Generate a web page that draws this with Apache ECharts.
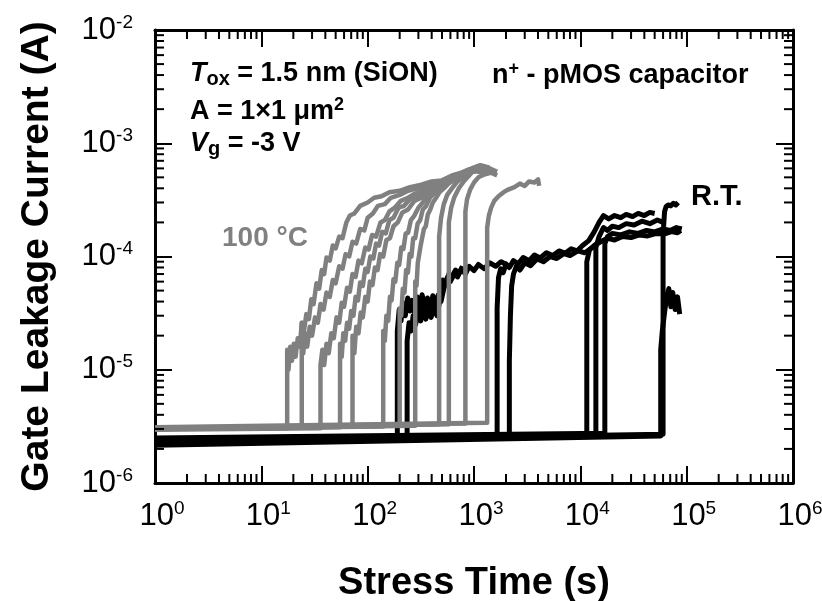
<!DOCTYPE html>
<html>
<head>
<meta charset="utf-8">
<script src="https://cdn.jsdelivr.net/npm/echarts@6/dist/echarts.min.js"></script>
<style>
html,body{margin:0;padding:0;background:#fff;}
#chart{width:822px;height:601px;}
</style>
</head>
<body>
<div id="chart"></div>
<script>
// ---- axis ticks ----
const xDecades = [1, 10, 100, 1000, 10000, 100000, 1000000];
const xTickExponents = ['0', '1', '2', '3', '4', '5', '6'];
const yDecades = [1e-6, 1e-5, 1e-4, 1e-3, 1e-2];
const yTickExponents = ['-6', '-5', '-4', '-3', '-2'];
const minorMultipliers = [2, 3, 4, 5, 6, 7, 8, 9];

// ---- 100 °C curves (stress time s, gate current A) ----
const hot1 = [[1,3.0e-6],[17.5,3.05e-6],[17.5,1.5e-5],[18,1.0e-5],[18.7,1.6e-5],[19.4,1.2e-5],[20.2,1.7e-5],[21,1.3e-5],[22,1.9e-5],[23,1.6e-5],[24,2.6e-5],[25,2.1e-5],[26.5,3.1e-5],[28,2.8e-5],[29.5,4.2e-5],[31,3.8e-5],[33,5.8e-5],[35,5.2e-5],[37,7.6e-5],[39,7.0e-5],[41,9.8e-5],[44,9.2e-5],[47,1.25e-4],[50,1.18e-4],[54,1.5e-4],[58,1.45e-4],[63,2.0e-4],[68,2.3e-4],[75,2.4e-4],[85,2.8e-4],[100,3.0e-4],[115,3.3e-4],[135,3.4e-4],[160,3.7e-4],[200,3.8e-4],[250,4.1e-4],[320,4.3e-4],[400,4.6e-4],[500,4.7e-4],[620,5.2e-4],[760,5.5e-4],[900,5.9e-4],[1050,6.0e-4],[1200,5.7e-4]];
const hot2 = [[1,3.05e-6],[24,3.1e-6],[24,2.6e-5],[24.8,1.4e-5],[25.8,2.1e-5],[27,1.6e-5],[28.5,2.4e-5],[30,2.0e-5],[32,2.9e-5],[34,2.6e-5],[36,3.8e-5],[38.5,3.4e-5],[41,4.8e-5],[44,4.4e-5],[47,6.2e-5],[50,5.8e-5],[54,8.2e-5],[58,7.8e-5],[62,1.05e-4],[67,1.0e-4],[72,1.35e-4],[78,1.3e-4],[85,1.75e-4],[93,1.7e-4],[100,2.2e-4],[112,2.4e-4],[125,2.8e-4],[145,2.9e-4],[165,3.3e-4],[200,3.5e-4],[240,3.8e-4],[290,4.0e-4],[350,4.2e-4],[430,4.5e-4],[520,4.6e-4],[620,5.0e-4],[750,5.2e-4],[900,5.5e-4],[1100,5.8e-4],[1350,5.4e-4]];
const hot3 = [[1,2.95e-6],[36,3.05e-6],[36,1.1e-5],[37.5,1.5e-5],[39,1.1e-5],[41,1.7e-5],[43,1.4e-5],[45.5,2.1e-5],[48,1.9e-5],[51,2.9e-5],[54,2.6e-5],[57,3.9e-5],[60,3.6e-5],[64,5.3e-5],[68,4.9e-5],[72,7.0e-5],[77,6.6e-5],[82,9.2e-5],[88,8.7e-5],[95,1.2e-4],[102,1.15e-4],[110,1.55e-4],[120,1.5e-4],[132,2.0e-4],[145,2.1e-4],[160,2.5e-4],[180,2.7e-4],[205,3.1e-4],[240,3.3e-4],[280,3.6e-4],[340,3.9e-4],[410,4.2e-4],[500,4.4e-4],[620,4.9e-4],[780,5.3e-4],[950,5.6e-4],[1150,5.7e-4],[1400,5.5e-4]];
const hot4 = [[1,3.0e-6],[55,3.1e-6],[55,1.7e-5],[57,1.3e-5],[59,2.1e-5],[61.5,1.8e-5],[64,2.6e-5],[67,2.3e-5],[70,3.3e-5],[73.5,3.0e-5],[77,4.4e-5],[81,4.1e-5],[85,5.9e-5],[90,5.5e-5],[95,7.8e-5],[100,7.3e-5],[106,1.0e-4],[113,9.6e-5],[120,1.3e-4],[128,1.25e-4],[137,1.65e-4],[148,1.6e-4],[160,2.1e-4],[175,2.2e-4],[195,2.7e-4],[220,2.8e-4],[250,3.2e-4],[290,3.4e-4],[340,3.8e-4],[410,4.1e-4],[500,4.5e-4],[600,4.7e-4],[720,5.2e-4],[860,5.6e-4],[1000,5.9e-4],[1200,6.2e-4],[1450,5.8e-4]];
const hot5 = [[1,3.05e-6],[72,3.15e-6],[72,2.0e-5],[75,1.4e-5],[78,2.4e-5],[82,2.1e-5],[86,3.2e-5],[90,2.9e-5],[95,4.4e-5],[100,4.0e-5],[105,6.0e-5],[111,5.6e-5],[117,8.0e-5],[124,7.6e-5],[131,1.05e-4],[140,1.0e-4],[150,1.4e-4],[162,1.45e-4],[175,1.85e-4],[192,2.0e-4],[212,2.45e-4],[240,2.6e-4],[275,3.1e-4],[320,3.3e-4],[380,3.8e-4],[450,4.0e-4],[540,4.5e-4],[650,4.8e-4],[780,5.3e-4],[930,5.7e-4],[1150,6.0e-4],[1500,5.7e-4]];
const hot6 = [[1,3.0e-6],[140,3.15e-6],[140,2.2e-5],[145,1.8e-5],[150,3.0e-5],[156,2.7e-5],[162,4.4e-5],[168,4.1e-5],[175,6.3e-5],[182,6.0e-5],[190,8.8e-5],[198,8.4e-5],[207,1.2e-4],[217,1.17e-4],[228,1.6e-4],[240,1.62e-4],[255,2.1e-4],[275,2.3e-4],[300,2.7e-4],[330,3.0e-4],[370,3.4e-4],[420,3.8e-4],[480,4.2e-4],[560,4.6e-4],[660,5.0e-4],[780,5.4e-4],[900,5.8e-4],[1100,6.3e-4],[1400,6.0e-4],[1650,5.6e-4]];
const hot7 = [[1,3.05e-6],[200,3.2e-6],[200,3.5e-5],[207,3.0e-5],[214,5.2e-5],[222,4.8e-5],[230,7.6e-5],[239,7.2e-5],[248,1.05e-4],[258,1.0e-4],[268,1.45e-4],[280,1.45e-4],[295,1.95e-4],[312,2.1e-4],[330,2.6e-4],[355,2.8e-4],[385,3.3e-4],[420,3.6e-4],[470,4.0e-4],[530,4.3e-4],[610,4.7e-4],[700,5.1e-4],[800,5.5e-4],[950,6.0e-4],[1150,6.4e-4],[1400,6.1e-4]];
const hot8 = [[1,3.0e-6],[280,3.2e-6],[280,6e-5],[288,5.5e-5],[296,8.8e-5],[305,8.5e-5],[315,1.25e-4],[326,1.25e-4],[338,1.75e-4],[352,1.85e-4],[368,2.35e-4],[388,2.6e-4],[410,3.0e-4],[440,3.3e-4],[475,3.7e-4],[520,4.0e-4],[575,4.4e-4],[650,4.7e-4],[730,5.1e-4],[830,5.4e-4],[950,5.7e-4],[1100,5.9e-4],[1300,5.5e-4]];
const hot9 = [[1,3.05e-6],[470,3.3e-6],[470,1.5e-4],[490,2.2e-4],[520,2.9e-4],[560,3.5e-4],[620,4.0e-4],[700,4.6e-4],[800,5.1e-4],[920,5.5e-4],[1050,5.7e-4],[1250,5.4e-4]];
const hot10 = [[1,3.0e-6],[580,3.3e-6],[580,2.0e-4],[610,2.7e-4],[650,3.3e-4],[720,4.0e-4],[800,4.6e-4],[900,5.2e-4],[1000,5.8e-4],[1150,6.2e-4],[1350,5.9e-4]];
const hot11 = [[1,3.05e-6],[830,3.35e-6],[830,2.5e-4],[860,3.2e-4],[920,3.9e-4],[1000,4.5e-4],[1100,5.0e-4],[1250,5.3e-4],[1450,5.5e-4],[1650,5.2e-4]];
const hot12 = [[1,3.1e-6],[1330,3.4e-6],[1330,1.8e-4],[1380,2.3e-4],[1450,2.7e-4],[1550,3.1e-4],[1700,3.4e-4],[1900,3.7e-4],[2100,3.9e-4],[2400,4.1e-4],[2700,4.4e-4],[3000,4.2e-4],[3300,4.6e-4],[3700,4.5e-4],[4000,4.8e-4],[4100,4.2e-4]];

// ---- room temperature curves ----
const rt1 = [[1,2.2e-6],[190,2.4e-6],[190,2.2e-5],[198,3.4e-5],[206,2.7e-5],[215,3.9e-5],[226,3.0e-5],[238,4.3e-5],[250,3.3e-5],[262,4.1e-5],[276,3.2e-5],[292,4.4e-5],[308,3.5e-5],[325,4.6e-5],[345,3.6e-5],[365,4.3e-5],[388,3.4e-5],[410,4.5e-5],[435,3.7e-5],[462,4.6e-5],[490,4.0e-5],[520,5.2e-5],[560,6.5e-5],[600,6.0e-5],[650,7.2e-5],[700,6.6e-5],[760,7.8e-5],[830,7.0e-5],[900,8.2e-5],[1000,7.5e-5],[1100,8.5e-5],[1250,7.8e-5],[1400,8.8e-5],[1600,8.2e-5],[1800,9.0e-5],[2000,8.5e-5]];
const rt2 = [[1,2.45e-6],[235,2.55e-6],[235,1.8e-5],[245,2.6e-5],[256,2.2e-5],[268,3.0e-5],[282,2.5e-5],[298,3.3e-5],[315,2.7e-5],[333,3.5e-5],[352,2.8e-5],[372,3.4e-5],[395,2.9e-5],[420,3.6e-5],[448,3.0e-5],[470,3.8e-5],[490,5.0e-5],[510,6.2e-5],[540,5.6e-5],[580,7.0e-5],[620,6.4e-5],[670,7.6e-5],[720,7.0e-5],[780,8.2e-5]];
const rt3 = [[1,2.25e-6],[1650,2.5e-6],[1650,3.5e-5],[1700,6.5e-5],[1780,7.8e-5],[1880,7.2e-5],[2000,8.6e-5],[2150,8.0e-5],[2350,9.2e-5],[2600,8.6e-5],[2900,9.8e-5],[3300,9.2e-5],[3700,1.03e-4],[4200,9.7e-5],[4800,1.08e-4],[5500,1.02e-4],[6300,1.12e-4],[7200,1.07e-4],[8200,1.17e-4],[9300,1.12e-4],[10500,1.25e-4],[12000,1.38e-4],[13500,1.65e-4],[15000,2.0e-4],[16500,2.3e-4],[18500,2.15e-4],[21000,2.3e-4],[24000,2.2e-4],[27000,2.35e-4],[31000,2.25e-4],[35000,2.4e-4],[40000,2.3e-4],[45000,2.45e-4],[50000,2.4e-4]];
const rt4 = [[1,2.35e-6],[2150,2.55e-6],[2150,1.2e-5],[2200,3.0e-5],[2260,5.5e-5],[2350,7.0e-5],[2500,8.2e-5],[2700,7.6e-5],[3000,8.8e-5],[3400,8.3e-5],[3900,9.5e-5],[4500,9.0e-5],[5200,1.0e-4],[6000,9.6e-5],[7000,1.06e-4],[8000,1.02e-4],[9500,1.12e-4],[11000,1.08e-4],[13000,1.2e-4]];
const rt5 = [[1,2.3e-6],[11500,2.6e-6],[11500,9e-5],[12200,1.15e-4],[13500,1.25e-4],[15500,1.35e-4],[18000,1.45e-4],[21000,1.4e-4],[25000,1.5e-4],[30000,1.47e-4],[36000,1.55e-4],[43000,1.52e-4],[52000,1.6e-4],[62000,1.58e-4],[72000,1.66e-4],[82000,1.62e-4],[88000,1.7e-4]];
const rt6 = [[1,2.4e-6],[14000,2.65e-6],[14000,1.2e-4],[15000,1.5e-4],[16500,1.8e-4],[18000,1.7e-4],[20000,1.85e-4],[23000,1.8e-4],[27000,1.95e-4],[32000,1.9e-4],[38000,2.05e-4],[45000,1.95e-4],[53000,2.1e-4],[60000,2.0e-4]];
const rt7 = [[1,2.5e-6],[17000,2.75e-6],[17000,1.3e-4],[18000,1.5e-4],[20000,1.6e-4],[24000,1.55e-4],[29000,1.65e-4],[35000,1.6e-4],[42000,1.7e-4],[50000,1.65e-4],[60000,1.75e-4],[70000,1.7e-4],[80000,1.8e-4],[90000,1.75e-4]];
const rt8 = [[1,2.3e-6],[60000,2.7e-6],[60000,1.5e-4],[61000,2.0e-4],[62000,2.5e-4],[64000,2.75e-4],[67000,2.85e-4],[71000,2.8e-4],[75000,2.95e-4],[79000,2.85e-4],[83000,3.0e-4]];
const rt9 = [[1,2.15e-6],[57000,2.6e-6],[57000,1.5e-5],[59000,2.2e-5],[62000,3.2e-5],[65000,4.5e-5],[68000,5.2e-5],[71000,3.6e-5],[74000,4.8e-5],[78000,3.4e-5],[82000,4.4e-5],[86000,3.1e-5]];

const hotCurves = [hot1, hot2, hot3, hot4, hot5, hot6, hot7, hot8, hot9, hot10, hot11, hot12];
const rtCurves = [rt1, rt2, rt3, rt4, rt5, rt6, rt7, rt8, rt9];

const X_MIN = 1, X_MAX = 1e6, Y_MIN = 1e-6, Y_MAX = 1e-2;
const FONT = "'Liberation Sans', Arial, Helvetica, sans-serif";

const xMinor = [];
xDecades.slice(0, -1).forEach(d => minorMultipliers.forEach(m => xMinor.push([d * m, Y_MIN])));
const yMinor = [];
yDecades.slice(0, -1).forEach(d => minorMultipliers.forEach(m => yMinor.push([X_MIN, d * m])));

const chart = echarts.init(document.getElementById('chart'), null, {renderer: 'canvas'});

const labelRich = {
  b: {fontFamily: FONT, fontSize: 31, lineHeight: 34, color: '#000'},
  s: {fontFamily: FONT, fontSize: 19, lineHeight: 18, verticalAlign: 'top', color: '#000'}
};
function xLabel(v) {
  const i = xDecades.findIndex(d => Math.abs(Math.log10(d) - Math.log10(v)) < 1e-6);
  return i < 0 ? '' : '{b|10}{s|' + xTickExponents[i] + '}';
}
function yLabel(v) {
  const i = yDecades.findIndex(d => Math.abs(Math.log10(d) - Math.log10(v)) < 1e-6);
  return i < 0 ? '' : '{b|10}{s|' + yTickExponents[i] + '}';
}

const axisLine = {show: true, onZero: false, lineStyle: {color: '#000', width: 3}};
const majorTick = {show: true, inside: true, length: 17, lineStyle: {color: '#000', width: 2}};

const series = [];
rtCurves.forEach((d, i) => series.push({
  type: 'line', name: 'R.T. ' + (i + 1), data: d, showSymbol: false, symbol: 'none',
  lineStyle: {color: '#000000', width: 5, join: 'round'}, z: 2, silent: true
}));
hotCurves.forEach((d, i) => series.push({
  type: 'line', name: '100C ' + (i + 1), data: d, showSymbol: false, symbol: 'none',
  lineStyle: {color: '#808080', width: 4.5, join: 'round'}, z: 3, silent: true
}));
series.push({
  type: 'custom', data: xMinor, clip: false, silent: true, z: 10,
  renderItem(params, api) {
    const v = api.value(0);
    const b = api.coord([v, Y_MIN]);
    const t = api.coord([v, Y_MAX]);
    const st = {stroke: '#000', lineWidth: 2};
    return {type: 'group', children: [
      {type: 'line', shape: {x1: b[0], y1: b[1], x2: b[0], y2: b[1] - 9}, style: st},
      {type: 'line', shape: {x1: t[0], y1: t[1], x2: t[0], y2: t[1] + 9}, style: st}
    ]};
  }
});
series.push({
  type: 'custom', data: yMinor, clip: false, silent: true, z: 10,
  renderItem(params, api) {
    const v = api.value(1);
    const l = api.coord([X_MIN, v]);
    const r = api.coord([X_MAX, v]);
    const st = {stroke: '#000', lineWidth: 2};
    return {type: 'group', children: [
      {type: 'line', shape: {x1: l[0], y1: l[1], x2: l[0] + 9, y2: l[1]}, style: st},
      {type: 'line', shape: {x1: r[0], y1: r[1], x2: r[0] - 9, y2: r[1]}, style: st}
    ]};
  }
});

const txt = {fontFamily: FONT, fontSize: 27, fontWeight: 'bold', lineHeight: 32, color: '#000'};
const richAnn = {
  n: Object.assign({}, txt),
  ti: Object.assign({}, txt, {fontStyle: 'italic'}),
  sub: Object.assign({}, txt, {fontSize: 20, lineHeight: 16, verticalAlign: 'bottom'}),
  sup: Object.assign({}, txt, {fontSize: 18, lineHeight: 16, verticalAlign: 'top'})
};

const option = {
  animation: false,
  backgroundColor: '#fff',
  grid: {left: 155, right: 29, top: 30, bottom: 118, containLabel: false, outerBoundsMode: 'none'},
  xAxis: [{
    type: 'log', logBase: 10, min: X_MIN, max: X_MAX, splitNumber: 6,
    position: 'bottom',
    name: 'Stress Time (s)', nameLocation: 'middle', nameGap: 82,
    nameTextStyle: {fontFamily: FONT, fontSize: 38, fontWeight: 'bold', color: '#000'},
    axisLine: axisLine, axisTick: majorTick,
    axisLabel: {show: true, margin: 16, padding: [0, 0, 0, 14], formatter: xLabel, rich: labelRich, showMinLabel: true, showMaxLabel: true},
    splitLine: {show: false}, minorTick: {show: false}
  }, {
    type: 'log', logBase: 10, min: X_MIN, max: X_MAX, splitNumber: 6,
    position: 'top',
    axisLine: axisLine, axisTick: majorTick, axisLabel: {show: false}, splitLine: {show: false}
  }],
  yAxis: [{
    type: 'log', logBase: 10, min: Y_MIN, max: Y_MAX, splitNumber: 4,
    position: 'left',
    name: 'Gate Leakage Current (A)', nameLocation: 'middle', nameGap: 98,
    nameTextStyle: {fontFamily: FONT, fontSize: 39, fontWeight: 'bold', color: '#000'},
    axisLine: axisLine, axisTick: majorTick,
    axisLabel: {show: true, margin: 22, formatter: yLabel, rich: labelRich, showMinLabel: true, showMaxLabel: true},
    splitLine: {show: false}, minorTick: {show: false}
  }, {
    type: 'log', logBase: 10, min: Y_MIN, max: Y_MAX, splitNumber: 4,
    position: 'right',
    axisLine: axisLine, axisTick: majorTick, axisLabel: {show: false}, splitLine: {show: false}
  }],
  series: series,
  graphic: [
    {type: 'text', left: 190, top: 60, z: 20, style: {text: '{ti|T}{sub|ox}{n| = 1.5 nm (SiON)}', rich: richAnn}},
    {type: 'text', left: 492, top: 60, z: 20, style: {text: '{n|n}{sup|+}{n| - pMOS capacitor}', rich: richAnn}},
    {type: 'text', left: 190, top: 96, z: 20, style: {text: '{n|A = 1\u00d71 \u03bcm}{sup|2}', rich: richAnn}},
    {type: 'text', left: 190, top: 130, z: 20, style: {text: '{ti|V}{sub|g}{n| = -3 V}', rich: richAnn}},
    {type: 'text', left: 222, top: 224, z: 20, style: {text: '100 \u00b0C', fontFamily: FONT, fontSize: 28, fontWeight: 'bold', fill: '#808080'}},
    {type: 'text', left: 691, top: 182, z: 20, style: {text: 'R.T.', fontFamily: FONT, fontSize: 29, fontWeight: 'bold', fill: '#000'}}
  ]
};
chart.setOption(option);
</script>
</body>
</html>
